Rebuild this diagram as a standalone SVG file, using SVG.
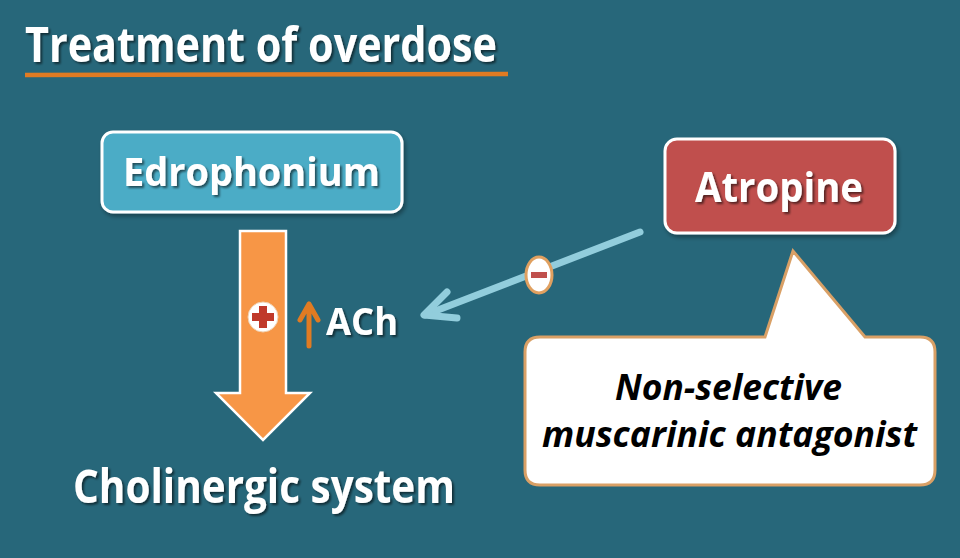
<svg xmlns="http://www.w3.org/2000/svg" width="960" height="558" viewBox="0 0 960 558">
<defs>
<filter id="ts" x="-10%" y="-20%" width="130%" height="150%">
<feDropShadow dx="2" dy="2" stdDeviation="1.2" flood-color="#000" flood-opacity="0.55"/>
</filter>
<filter id="bs" x="-10%" y="-10%" width="130%" height="130%">
<feDropShadow dx="2" dy="3" stdDeviation="2" flood-color="#000" flood-opacity="0.35"/>
</filter>
<style>
.w{font-family:"Open Sans","Liberation Sans",sans-serif;font-weight:bold;fill:#fff}
.bk{font-family:"Open Sans","Liberation Sans",sans-serif;font-weight:bold;font-style:italic;fill:#000}
.box{stroke:#fff;stroke-width:3}
.blue{stroke:#92cddc;stroke-width:7;stroke-linecap:round;stroke-linejoin:round;fill:none}
.up{stroke:#e07b22;stroke-width:5;stroke-linecap:round;stroke-linejoin:round;fill:none}
</style>
</defs>
<rect width="960" height="558" fill="#27677a"/>
<g id="title">
<text class="w" x="25" y="62" font-size="48" textLength="472" lengthAdjust="spacingAndGlyphs" filter="url(#ts)">Treatment of overdose</text>
<line x1="25" y1="75" x2="508" y2="74" stroke="#e07b22" stroke-width="4.5"/>
</g>
<g id="edrophonium">
<rect class="box" x="102" y="132" width="300" height="80" rx="11" fill="#4bacc6" filter="url(#bs)"/>
<text class="w" x="123" y="186" font-size="40" textLength="257" lengthAdjust="spacingAndGlyphs" filter="url(#ts)">Edrophonium</text>
</g>
<g id="atropine">
<rect class="box" x="665" y="139" width="230" height="94" rx="12" fill="#c0504d" filter="url(#bs)"/>
<text class="w" x="695" y="202" font-size="42" textLength="168" lengthAdjust="spacingAndGlyphs" filter="url(#ts)">Atropine</text>
</g>
<g id="connectors">
<path d="M240,231 H286 V393 H310 L263,440 L216,393 H240 Z" fill="#f79646" stroke="#fff" stroke-width="2.5"/>
<path class="blue" d="M640,232 L425,315"/>
<path class="blue" d="M447,292 L424,315 L457,318"/>
</g>
<g id="plus">
<circle cx="263" cy="317" r="15" fill="#fff" stroke="#f0d0b0" stroke-width="1"/>
<path d="M259,306 h8 v7 h7 v8 h-7 v7 h-8 v-7 h-7 v-8 h7 Z" fill="#c0392b"/>
</g>
<g id="minus">
<ellipse cx="539" cy="275" rx="13" ry="18" fill="#fff" stroke="#e0a060" stroke-width="3"/>
<rect x="531" y="272" width="16" height="6" fill="#c0504d"/>
</g>
<g id="ach">
<path class="up" d="M309,346 V304 M300,320 L309,304 L318,320"/>
<text class="w" x="326" y="335" font-size="37" textLength="72" lengthAdjust="spacingAndGlyphs" filter="url(#ts)">ACh</text>
</g>
<g id="callout">
<path d="M540,337 H765 L793,251 L865,337 H920 Q935,337 935,352 V470 Q935,485 920,485 H540 Q525,485 525,470 V352 Q525,337 540,337 Z" fill="#fff" stroke="#d9a066" stroke-width="3"/>
<text class="bk" x="615" y="400" font-size="35" textLength="227" lengthAdjust="spacingAndGlyphs">Non-selective</text>
<text class="bk" x="542" y="447" font-size="35" textLength="375" lengthAdjust="spacingAndGlyphs">muscarinic antagonist</text>
</g>
<g id="cholinergic">
<text class="w" x="73" y="503" font-size="47" textLength="382" lengthAdjust="spacingAndGlyphs" filter="url(#ts)">Cholinergic system</text>
</g>
</svg>
